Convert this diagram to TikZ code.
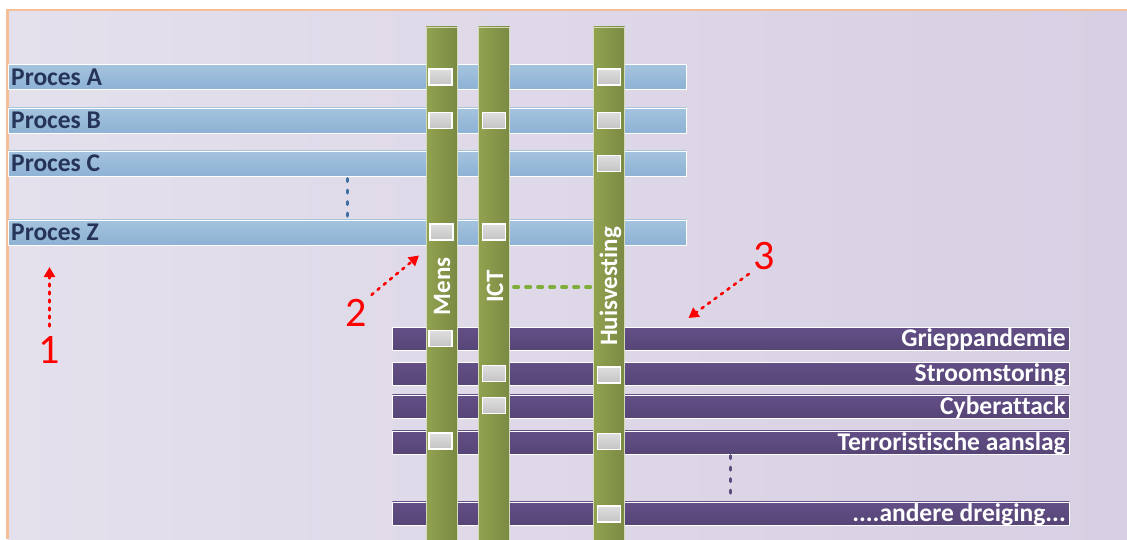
\documentclass[tikz,border=0pt]{standalone}
\usepackage{fontspec}
\setmainfont[Ligatures={NoCommon}]{Carlito}
\usetikzlibrary{arrows.meta}
\definecolor{bgL}{HTML}{E4E0EC}
\definecolor{bgR}{HTML}{D7CFE3}
\definecolor{framec}{HTML}{F4BE96}
\definecolor{blueT}{HTML}{A5C3DE}
\definecolor{blueB}{HTML}{8DB2D4}
\definecolor{navy}{HTML}{26345A}
\definecolor{purT}{HTML}{634F86}
\definecolor{purB}{HTML}{564576}
\definecolor{grnL}{HTML}{91A24F}
\definecolor{grnR}{HTML}{7A8A44}
\definecolor{sqT}{HTML}{DEDEDE}
\definecolor{sqB}{HTML}{C4C4C4}
\definecolor{dotblue}{HTML}{3E6FA3}
\definecolor{dotgreen}{HTML}{80AE3A}
\definecolor{dotpur}{HTML}{5E4C80}
\begin{document}
\begin{tikzpicture}[x=1pt,y=-1pt,
 pbar/.style={draw=white, line width=0.8pt, top color=blueT, bottom color=blueB, minimum width=678pt, minimum height=25pt, inner sep=0pt, anchor=north west},
 tbar/.style={draw=white, line width=0.8pt, top color=purT, bottom color=purB, minimum width=677pt, minimum height=23pt, inner sep=0pt, anchor=north west},
 gbar/.style={draw=white!60!grnL, line width=0.8pt, left color=grnL, right color=grnR, minimum width=31pt, minimum height=513pt, inner sep=0pt, anchor=north},
 sq/.style={draw=white, line width=1.2pt, top color=sqT, bottom color=sqB, minimum width=23pt, minimum height=16pt, inner sep=0pt},
 plab/.style={font=\fontsize{25.5}{28}\selectfont\bfseries, text=navy, anchor=base west, inner sep=0pt},
 tlab/.style={font=\fontsize{25.5}{28}\selectfont\bfseries, text=white, anchor=base east, inner sep=0pt},
 glab/.style={font=\fontsize{25}{28}\selectfont\bfseries, text=white, rotate=90, anchor=base, inner sep=0pt},
 num/.style={font=\fontsize{42}{48}\selectfont, text=red, inner sep=0pt},
 redarr/.style={red, line width=2.6pt, line cap=round, dash pattern=on 2.5pt off 5.5pt, -{Triangle[length=10pt,width=11pt]}},
 dotl/.style={line width=3pt, line cap=round, dash pattern=on 3pt off 8.5pt}
]
\useasboundingbox (0,0) rectangle (1127,539);
% background and frame
\fill[left color=bgL, right color=bgR] (7.5,10) rectangle (1127,539);
\draw[framec, line width=2.5pt] (7.5,539) -- (7.5,10) -- (1127,10);

% process bars
\node[pbar] (pA) at (8,64) {};
\node[pbar] (pB) at (8,107.5) {};
\node[pbar] (pC) at (8,150.5) {};
\node[pbar] (pZ) at (8,219.5) {};
\node[plab] (lA) at (11,85) {Proces A};
\node[plab] (lB) at (11,128.5) {Proces B};
\node[plab] (lC) at (11,171.5) {Proces C};
\node[plab] (lZ) at (11,240.5) {Proces Z};

% threat bars
\node[tbar] (t1) at (392,327) {};
\node[tbar] (t2) at (392,362) {};
\node[tbar] (t3) at (392,394.5) {};
\node[tbar] (t4) at (392,430.5) {};
\node[tbar] (t5) at (392,501.5) {};
\node[tlab] (k1) at (1066,346.5) {Grieppandemie};
\node[tlab] (k2) at (1066,381.5) {Stroomstoring};
\node[tlab] (k3) at (1066,414) {Cyberattack};
\node[tlab] (k4) at (1066,450) {Terroristische aanslag};
\node[tlab] (k5) at (1066,521) {....andere dreiging...};

% dotted continuation lines
\coordinate (db1) at (347,178.5);
\coordinate (db2) at (347,218);
\draw[dotl, dotblue] (db1) -- (db2);
\coordinate (dp1) at (730,455.5);
\coordinate (dp2) at (730,499);
\draw[dotl, dotpur] (dp1) -- (dp2);

% resource columns
\node[gbar] (mens) at (441.5,26.5) {};
\node[gbar] (ict) at (494,26.5) {};
\node[gbar] (huis) at (609,26.5) {};
\draw[dotgreen, line width=3.5pt, line cap=round, dash pattern=on 4.5pt off 7.5pt] (ict.east |- 0,287) ++(4,0) coordinate (dg1) -- (huis.west |- 0,287) coordinate (dg2);
\node[glab] (lmens) at (450,286.5) {Mens};
\node[glab] (lict) at (503,286.5) {ICT};
\node[glab] (lhuis) at (617,286.5) {Huisvesting};

% squares on process rows
\node[sq] (sA1) at (440.5,77) {};
\node[sq] (sA3) at (609,77) {};
\node[sq] (sB1) at (440.5,120.5) {};
\node[sq] (sB2) at (494,120.5) {};
\node[sq] (sB3) at (609,120.5) {};
\node[sq] (sC3) at (609,163.5) {};
\node[sq] (sZ1) at (441.5,232) {};
\node[sq] (sZ2) at (494,232) {};
% squares on threat rows
\node[sq] (s11) at (440.5,338.5) {};
\node[sq] (s22) at (494,373.5) {};
\node[sq] (s23) at (609,375) {};
\node[sq] (s32) at (494,405.5) {};
\node[sq] (s41) at (440.5,441) {};
\node[sq] (s43) at (609,441.5) {};
\node[sq] (s53) at (609,514) {};

% red markers
\node[num] (n1) at (49.5,350) {1};
\node[num] (n2) at (356,312.5) {2};
\node[num] (n3) at (764.5,256.5) {3};
\coordinate (a1) at (49.5,267);
\coordinate (a2) at (419,255.5);
\coordinate (a3) at (688.5,318);
\draw[redarr, shorten <=10pt] (n1.north) -- (a1);
\draw[redarr, shorten <=6pt] (n2.north east) -- (a2);
\draw[redarr, shorten <=6pt] (n3.south west) -- (a3);
\end{tikzpicture}
\end{document}
